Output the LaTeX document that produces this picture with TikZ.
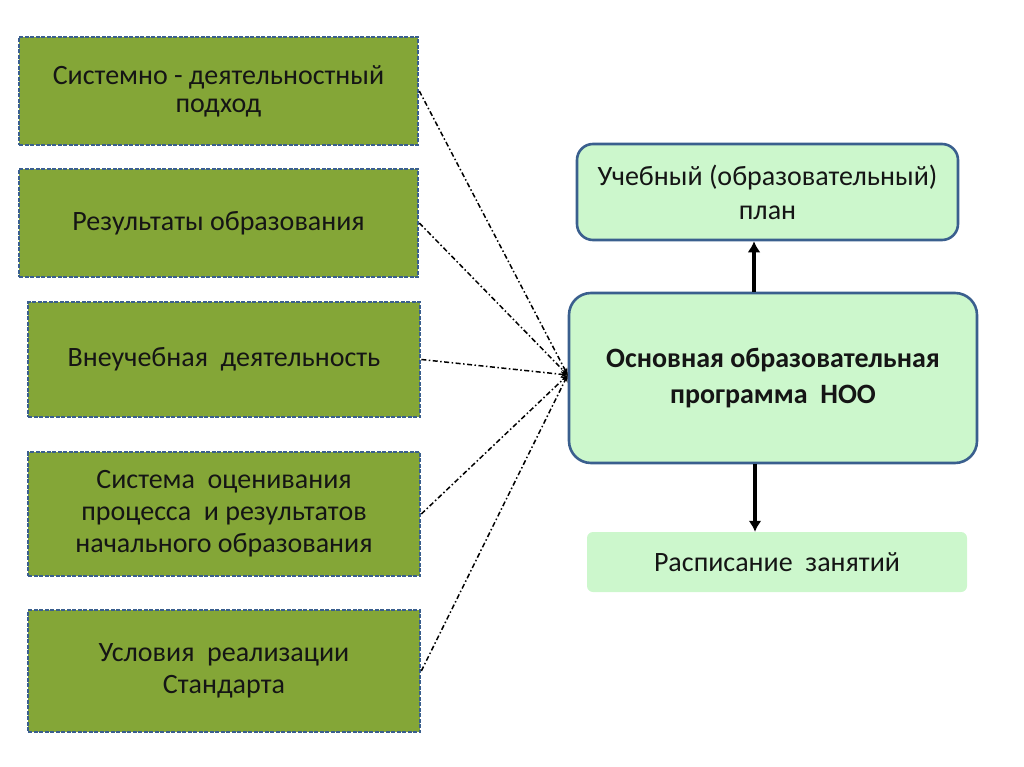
\documentclass[tikz,border=0pt]{standalone}
\usepackage{fontspec}
\setmainfont{Carlito}
\usepackage{xcolor}
\usetikzlibrary{arrows.meta,positioning}
\definecolor{oliveFill}{HTML}{84A637}
\definecolor{mintFill}{HTML}{CCF7CC}
\definecolor{edgeBlue}{HTML}{3A5F8E}
\definecolor{inkText}{HTML}{151515}

\begin{document}
\begin{tikzpicture}[x=1pt,y=-1pt,
    font=\fontsize{28}{30}\selectfont,text=inkText,
    leftbox/.style={draw=edgeBlue,line width=2.6pt,dash pattern=on 4pt off 1.5pt,
      fill=oliveFill,align=center,inner sep=0pt,minimum width=#1},
    leftbox/.default=392pt,
    mintbox/.style={draw=edgeBlue,line width=2.6pt,fill=mintFill,rounded corners=#1,
      align=center,inner sep=0pt},
    link/.style={line width=1.5pt,dash pattern=on 5pt off 2.5pt on 1.5pt off 2.5pt,
      -{Stealth[length=7pt,width=6pt]}},
    flow/.style={line width=3.6pt,-{Latex[length=11pt,width=13pt]}}]
    \useasboundingbox (0,0) rectangle (1024,767);
    % left column
    \node[leftbox=399pt,minimum height=108pt,font=\fontsize{28}{28}\selectfont]
      (approach) at (218.5,91) {Системно - деятельностный\\подход};
    \node[leftbox=399pt,minimum height=108pt] (results) at (218.5,223)
      {Результаты образования};
    \node[leftbox,minimum height=115pt] (extra) at (224,359.5)
      {Внеучебная\ \ деятельность};
    \node[leftbox,minimum height=124pt,font=\fontsize{28}{32}\selectfont]
      (assess) at (224,514)
      {Система\ \ оценивания\\процесса\ \ и результатов\\начального образования};
    \node[leftbox,minimum height=122pt,font=\fontsize{28}{32}\selectfont]
      (terms) at (224,671) {Условия\ \ реализации\\Стандарта};
    % right column
    \node[mintbox=22pt,minimum width=408pt,minimum height=170pt,
          font=\fontsize{28}{36}\selectfont\bfseries] (program) at (773,378)
      {Основная образовательная\\программа\ \ НОО};
    \node[mintbox=16pt,minimum width=381pt,minimum height=96pt,
          font=\fontsize{28}{34}\selectfont] (plan) at (767.5,192)
      {Учебный (образовательный)\\план};
    \node[fill=mintFill,rounded corners=6pt,minimum width=380pt,minimum height=60pt,
          inner sep=0pt] (schedule) at (777,562)
      {Расписание\ \ занятий};
    \coordinate (hub) at ([yshift=3pt]program.west);
    \foreach \src in {approach,results,extra,assess,terms}
      \draw[link] (\src.east) -- (hub);
    \draw[flow] (program.north -| 754,0) -- (plan.south -| 754,0);
    \draw[flow] (program.south -| 755,0) -- (schedule.north -| 755,0);
  \end{tikzpicture}
\end{document}
